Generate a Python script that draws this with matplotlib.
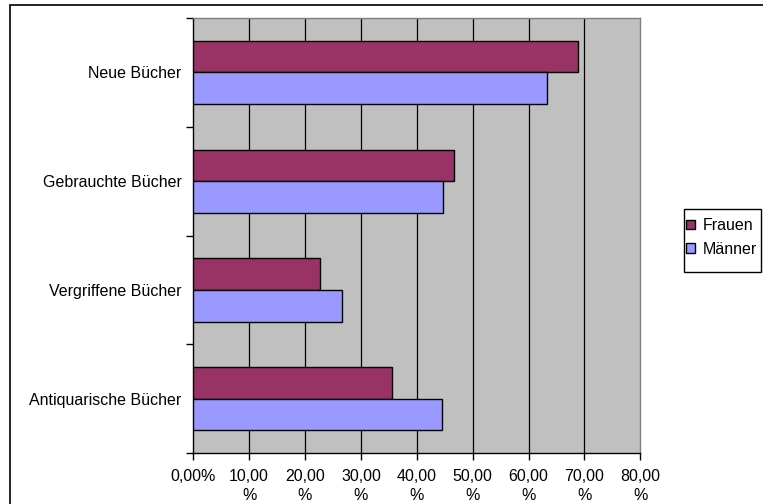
import numpy as np
import matplotlib.pyplot as plt
from matplotlib.patches import Rectangle

plt.rcParams['font.family'] = ['Liberation Sans', 'DejaVu Sans']

# Daten (von oben nach unten)
kategorien = ['Neue Bücher', 'Gebrauchte Bücher', 'Vergriffene Bücher', 'Antiquarische Bücher']
frauen = [68.9, 46.7, 22.7, 35.5]
maenner = [63.3, 44.7, 26.7, 44.5]
x_ticks = [0, 10, 20, 30, 40, 50, 60, 70, 80]
x_labels = ['0,00%', '10,00\n%', '20,00\n%', '30,00\n%', '40,00\n%',
            '50,00\n%', '60,00\n%', '70,00\n%', '80,00\n%']

fs = 11.5

fig = plt.figure(figsize=(7.63, 5.04), dpi=100)
ax = fig.add_axes([0.2533, 0.1006, 0.5859, 0.8637])

# aeusserer Rahmen (nur links/oben sichtbar)
fig.patches.append(Rectangle((10 / 763, -0.1), 1.0, 1 - 5 / 504 + 0.1,
                             transform=fig.transFigure, fill=False,
                             edgecolor='black', linewidth=1.2))

y = np.arange(len(kategorien))[::-1]
h = 0.29

ax.set_facecolor('#c0c0c0')
ax.barh(y + h / 2, frauen, height=h, color='#993366', edgecolor='black',
        linewidth=1, label='Frauen', zorder=3)
ax.barh(y - h / 2, maenner, height=h, color='#9999ff', edgecolor='black',
        linewidth=1, label='Männer', zorder=3)

ax.set_xlim(0, 80)
ax.set_ylim(-0.5, len(kategorien) - 0.5)

# Gitterlinien
for xv in x_ticks[1:-1]:
    ax.axvline(xv, color='black', linewidth=0.9, zorder=1)

ax.set_xticks(x_ticks)
ax.set_xticklabels(x_labels, fontsize=fs, linespacing=1.35)
ax.tick_params(axis='x', direction='out', length=5, width=1, pad=6)

# Trennstriche zwischen Kategorien, Beschriftung in der Mitte
ax.set_yticks(np.arange(-0.5, len(kategorien), 1.0))
ax.set_yticklabels([])
ax.set_yticks(y, minor=True)
ax.set_yticklabels(kategorien, minor=True, fontsize=fs)
ax.tick_params(axis='y', which='major', direction='out', length=5, width=1)
ax.tick_params(axis='y', which='minor', length=0, pad=8.5)

for s in ['left', 'bottom']:
    ax.spines[s].set_color('black')
    ax.spines[s].set_linewidth(1)
for s in ['top', 'right']:
    ax.spines[s].set_color('#808080')
    ax.spines[s].set_linewidth(1)

# Legende ohne eigenen Rahmen, Kasten separat (links/rechts eng, oben/unten luftig)
fig.legend(loc='center left', bbox_to_anchor=(686 / 763, 1 - 237.5 / 504),
           fontsize=fs, frameon=False, borderpad=0,
           handlelength=0.55, handleheight=0.55, handletextpad=0.5,
           labelspacing=0.55, borderaxespad=0)
fig.patches.append(Rectangle((684 / 763, 1 - 272 / 504), 77 / 763, 63 / 504,
                             transform=fig.transFigure, fill=False,
                             edgecolor='black', linewidth=1))

fig.savefig('out.png', dpi=100)
